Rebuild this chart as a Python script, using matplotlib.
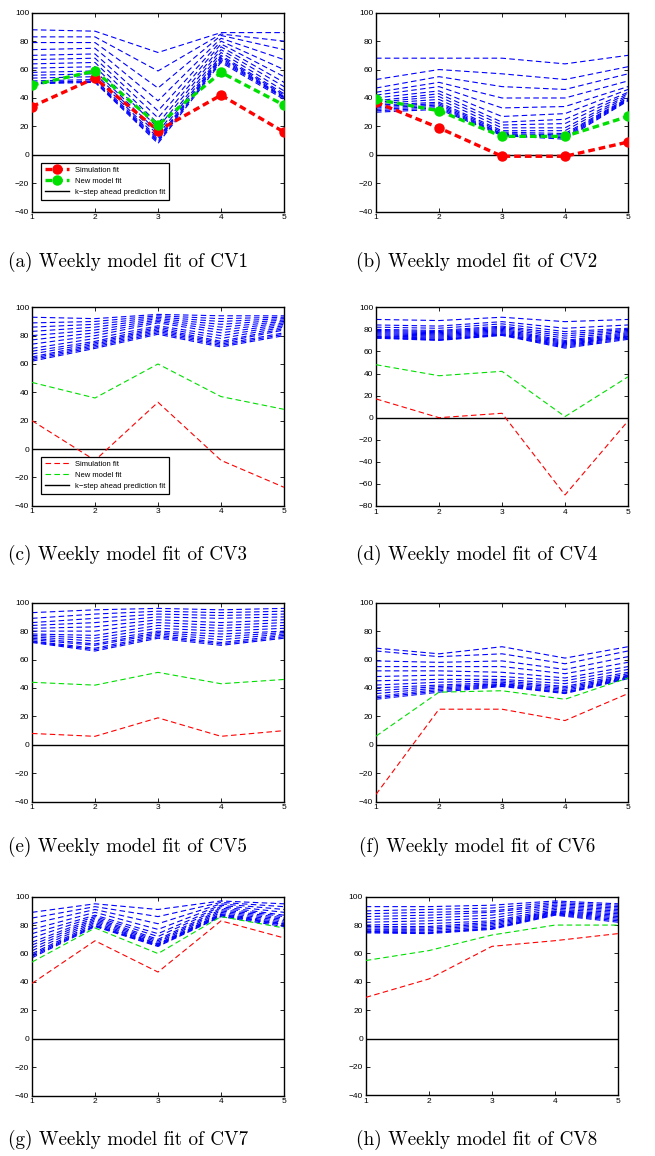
import matplotlib
matplotlib.use("Agg")
import matplotlib.pyplot as plt

plt.rcParams['font.family'] = ['Liberation Sans', 'DejaVu Sans']

weeks = [1, 2, 3, 4, 5]

# simulation fit (red) and new model fit (green) for each CV
simCV1 = [34, 54, 17, 42, 16]
newCV1 = [49, 59, 21, 58, 35]
simCV2 = [37, 19, -1, -1, 9]
newCV2 = [39, 31, 13, 13, 27]
simCV3 = [20, -8, 33, -8, -27]
newCV3 = [47, 36, 60, 37, 28]
simCV4 = [17, 0, 4, -70, -3]
newCV4 = [48, 38, 42, 1, 37]
simCV5 = [8, 6, 19, 6, 10]
newCV5 = [44, 42, 51, 43, 46]
simCV6 = [-35, 25, 25, 17, 36]
newCV6 = [6, 37, 38, 32, 47]
simCV7 = [39, 69, 47, 83, 71]
newCV7 = [54, 78, 60, 86, 78]
simCV8 = [29, 42, 65, 69, 74]
newCV8 = [55, 62, 73, 80, 80]

# k-step ahead prediction fits (blue), one row per k
kstepCV1 = [[88, 87, 72, 86, 86], [83, 83, 59, 85, 80], [79, 79, 47, 84, 74],
            [74, 75, 38, 82, 67], [70, 71, 31, 80, 60], [67, 68, 26, 78, 55],
            [64, 65, 22, 76, 51], [61, 62, 19, 74, 48], [58, 59, 16, 72, 45],
            [56, 57, 14, 70, 43], [54, 55, 12, 69, 42], [52, 53, 11, 68, 41],
            [51, 52, 10, 67, 40.5], [50.5, 51.5, 9, 66, 40], [50, 51, 8, 65, 39]]
kstepCV2 = [[68, 68, 68, 64, 70], [53, 60, 57, 53, 62], [47, 55, 48, 46, 57],
            [44, 51, 40, 40, 52], [42, 48, 33, 34, 48], [40, 45, 27, 29, 46],
            [38, 43, 23, 25, 44], [37, 41, 21, 22, 43], [36, 39, 19, 19, 42],
            [35, 37, 17, 17, 41], [34, 36, 16, 15, 40], [33, 35, 15, 14, 39.5],
            [32, 34, 14.5, 13, 39], [31, 33, 14, 12, 38.5], [30, 32, 13.5, 11, 38]]
kstepCV3 = [[93, 92, 95, 94, 94], [89, 90, 94, 92, 93], [86, 88, 93, 90, 92],
            [83, 86, 92, 88, 91], [80, 84, 91, 86, 90], [77, 82, 90, 84, 89],
            [74, 80, 89, 82, 88], [71, 78, 87, 80, 87], [69, 76, 86, 78, 86],
            [67, 75, 85, 76, 85], [65, 74, 84, 75, 84], [64, 73, 83, 74, 82],
            [63, 72, 82, 73, 81], [62, 71, 81, 72, 80]]
kstepCV4 = [[89, 88, 91, 87, 89], [84, 83, 87, 81, 84], [82, 81, 85, 78, 81],
            [80, 79, 83, 76, 80], [79, 78, 82, 74, 79], [78, 77, 81, 72, 78],
            [77, 76, 80, 70, 77], [76, 75, 79, 69, 76], [75, 74, 78, 68, 75],
            [74, 73, 77, 67, 74], [73.5, 72, 76, 66, 73.5], [73, 71, 75.5, 65, 73],
            [72.5, 70.5, 75, 64, 72], [72, 70, 74.5, 63, 71]]
kstepCV5 = [[93, 95, 96, 95, 96], [89, 92, 94, 93, 94], [86, 89, 92, 91, 92],
            [84, 86, 90, 89, 90], [82, 83, 88, 86, 88], [80, 80, 86, 84, 86],
            [78, 77, 84, 82, 84], [77, 75, 82, 80, 82], [76, 73, 80, 78, 80],
            [75, 71, 79, 76, 79], [74, 70, 78, 74, 78], [73, 68, 77, 72, 77],
            [72.5, 67, 76, 71, 76], [72, 66, 75, 70, 75]]
kstepCV6 = [[68, 64, 69, 61, 69], [66, 62, 64, 57, 66], [59, 58, 59, 53, 62],
            [55, 55, 55, 50, 58], [52, 52, 51, 47, 55], [48, 49, 48, 45, 53],
            [45, 46, 46, 43, 51], [42, 44, 45, 41, 50], [40, 42, 44, 40, 49],
            [38, 41, 43, 39, 48.5], [36, 40, 42.5, 38, 48], [34, 39, 42, 37, 47.5],
            [33, 38, 41.5, 36.5, 47], [32, 37, 41, 36, 46.5]]
kstepCV7 = [[89, 95, 91, 97, 95], [85, 93, 86, 96, 93], [81, 91, 81, 95, 91],
            [77, 89, 77, 94, 89], [74, 87, 74, 93, 87], [71, 86, 72, 92, 86],
            [68, 85, 70, 91, 85], [66, 84, 69, 90, 84], [64, 83, 68, 89, 83],
            [62, 82, 67, 88, 82], [60, 81, 66.5, 87.5, 81], [59, 80, 66, 87, 80.5],
            [58, 79.5, 65.5, 86.5, 80], [57, 79, 65, 86, 79]]
kstepCV8 = [[93, 93, 94, 97, 95], [90, 91, 92, 96, 94], [88, 89, 90, 95, 93],
            [86, 87, 89, 94, 92], [84, 85, 87, 93, 91], [82, 83, 85, 92, 90],
            [80, 81, 83, 91, 89], [79, 79, 82, 90, 88], [78, 78, 81, 89.5, 87],
            [77, 77, 80, 89, 86], [76, 76, 79, 88.5, 85], [75.5, 75, 78, 88, 84],
            [75, 74.5, 77.5, 87.5, 83], [74.5, 74, 77, 87, 82]]

captions = ["(a) Weekly model fit of CV1", "(b) Weekly model fit of CV2",
            "(c) Weekly model fit of CV3", "(d) Weekly model fit of CV4",
            "(e) Weekly model fit of CV5", "(f) Weekly model fit of CV6",
            "(g) Weekly model fit of CV7", "(h) Weekly model fit of CV8"]
legendLabels = ["Simulation fit", "New model fit", "k\u2212step ahead prediction fit"]

W, H = 655, 1156
fig = plt.figure(figsize=(W / 100, H / 100), dpi=100)

def addAxes(left, top, right, bottom): # axes box given in pixels from the top-left corner
    return fig.add_axes([left / W, 1 - bottom / H, (right - left) / W, (bottom - top) / H])

def drawPanel(ax, ksteps, sim, new, ymin, yticks, thick, legend):
    for row in ksteps:
        ax.plot(weeks, row, color="blue", linestyle=(0, (5, 3)), linewidth=0.8)
    if thick: # first two panels use heavy lines with circle markers
        simLine, = ax.plot(weeks, sim, color="red", linestyle=(0, (2, 1.2)), linewidth=2.4,
                           marker="o", markersize=6.5, zorder=5)
        newLine, = ax.plot(weeks, new, color="#00e000", linestyle=(0, (2, 1.2)), linewidth=2.4,
                           marker="o", markersize=6.5, zorder=5)
    else:
        simLine, = ax.plot(weeks, sim, color="red", linestyle=(0, (5, 3)), linewidth=0.8, zorder=5)
        newLine, = ax.plot(weeks, new, color="#00e000", linestyle=(0, (5, 3)), linewidth=0.8, zorder=5)
    zeroLine = ax.axhline(0, color="black", linewidth=1.0, zorder=4)
    ax.set_xlim(1, 5)
    ax.set_ylim(ymin, 100)
    ax.set_xticks(weeks)
    ax.set_yticks(yticks)
    ax.tick_params(direction="in", top=True, right=True, labelsize=6, length=3, width=0.6, pad=2)
    for spine in ax.spines.values():
        spine.set_linewidth(1.0)
    if legend:
        leg = ax.legend([simLine, newLine, zeroLine], legendLabels, loc="lower left",
                        bbox_to_anchor=(0.02, 0.04), fontsize=5.5, fancybox=False,
                        edgecolor="black", framealpha=1, borderpad=0.5, handlelength=3.2,
                        labelspacing=0.5, numpoints=1)
        leg.get_frame().set_linewidth(0.9)

yticksNormal = [-40, -20, 0, 20, 40, 60, 80, 100]
yticksWide = [-80, -60, -40, -20, 0, 20, 40, 60, 80, 100]

panels = [
    (32, 12.7, 284, 211.7, kstepCV1, simCV1, newCV1, -40, yticksNormal, True, True),
    (376, 12.7, 628, 211.7, kstepCV2, simCV2, newCV2, -40, yticksNormal, True, False),
    (32, 307.3, 284, 505.7, kstepCV3, simCV3, newCV3, -40, yticksNormal, False, True),
    (376, 307.3, 628, 506, kstepCV4, simCV4, newCV4, -80, yticksWide, False, False),
    (32, 602.7, 284, 801.7, kstepCV5, simCV5, newCV5, -40, yticksNormal, False, False),
    (376, 602.7, 628, 801.5, kstepCV6, simCV6, newCV6, -40, yticksNormal, False, False),
    (32, 896.7, 284, 1095.7, kstepCV7, simCV7, newCV7, -40, yticksNormal, False, False),
    (365.7, 896.7, 618.3, 1095.3, kstepCV8, simCV8, newCV8, -40, yticksNormal, False, False),
]

captionX = [128, 477]
captionY = [262, 555, 847, 1140]

for i, p in enumerate(panels):
    ax = addAxes(p[0], p[1], p[2], p[3])
    drawPanel(ax, p[4], p[5], p[6], p[7], p[8], p[9], p[10])
    fig.text(captionX[i % 2] / W, 1 - captionY[i // 2] / H, captions[i],
             family=["cmr10", "DejaVu Serif"], fontsize=13.8, ha="center", va="center")

fig.savefig("out.png", dpi=100)
